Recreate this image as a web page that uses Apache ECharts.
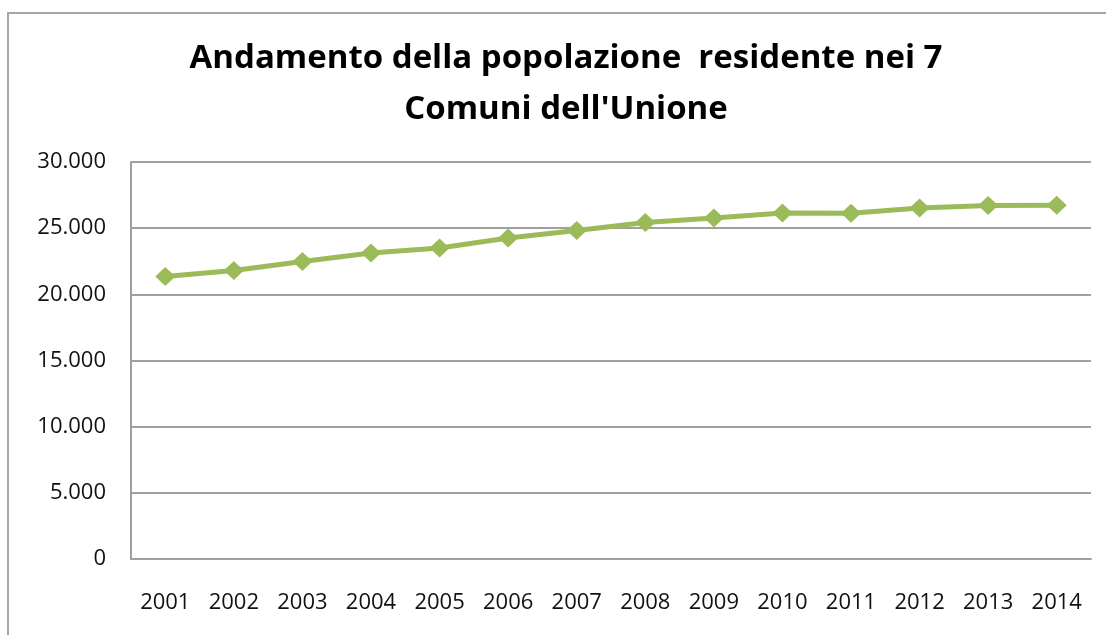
<!DOCTYPE html>
<html>
<head>
<meta charset="utf-8">
<script src="https://cdn.jsdelivr.net/npm/echarts@6/dist/echarts.min.js"></script>
<style>
  html, body { margin: 0; padding: 0; background: #fff; }
  #charts { width: 1106px; height: 635px; }
</style>
</head>
<body>
<div id="charts"></div>
<script>
var anni = ['2001','2002','2003','2004','2005','2006','2007','2008','2009','2010','2011','2012','2013','2014'];
var popolazione = [21350, 21800, 22480, 23120, 23500, 24250, 24830, 25430, 25760, 26140, 26130, 26520, 26720, 26740];
var titolo = "Andamento della popolazione  residente nei 7\nComuni dell'Unione";

var myChart = echarts.init(document.getElementById('charts'));

function migliaia(v) {
    return String(v).replace(/\B(?=(\d{3})+(?!\d))/g, '.');
}

var option = {
    animation: false,
    backgroundColor: '#fff',
    title: {
        text: titolo,
        left: 561,
        top: 28,
        textAlign: 'center',
        textStyle: {
            fontFamily: 'Open Sans',
            fontSize: 33,
            fontWeight: 'bold',
            color: '#000',
            lineHeight: 51
        }
    },
    graphic: [{
        type: 'rect',
        shape: { x: 8, y: 13, width: 1200, height: 700 },
        style: { fill: 'none', stroke: '#a6a6a6', lineWidth: 2 },
        silent: true
    }],
    grid: {
        left: 131,
        right: 15,
        top: 162,
        bottom: 76
    },
    xAxis: {
        type: 'category',
        data: anni,
        boundaryGap: true,
        axisLine: { lineStyle: { color: '#a0a0a0', width: 2 } },
        axisTick: { show: false },
        axisLabel: {
            margin: 33,
            fontFamily: 'Open Sans',
            fontSize: 22,
            color: '#111'
        }
    },
    yAxis: {
        type: 'value',
        min: 0,
        max: 30000,
        interval: 5000,
        axisLine: { show: true, lineStyle: { color: '#a0a0a0', width: 2 } },
        axisTick: { show: false },
        splitLine: { lineStyle: { color: '#a0a0a0', width: 2 } },
        axisLabel: {
            margin: 25,
            fontFamily: 'Open Sans',
            fontSize: 22,
            color: '#111',
            formatter: migliaia
        }
    },
    series: [{
        type: 'line',
        data: popolazione,
        symbol: 'diamond',
        symbolSize: [20, 19],
        lineStyle: { color: '#9bbb59', width: 5 },
        itemStyle: { color: '#9bbb59' }
    }]
};
myChart.setOption(option);
</script>
</body>
</html>
